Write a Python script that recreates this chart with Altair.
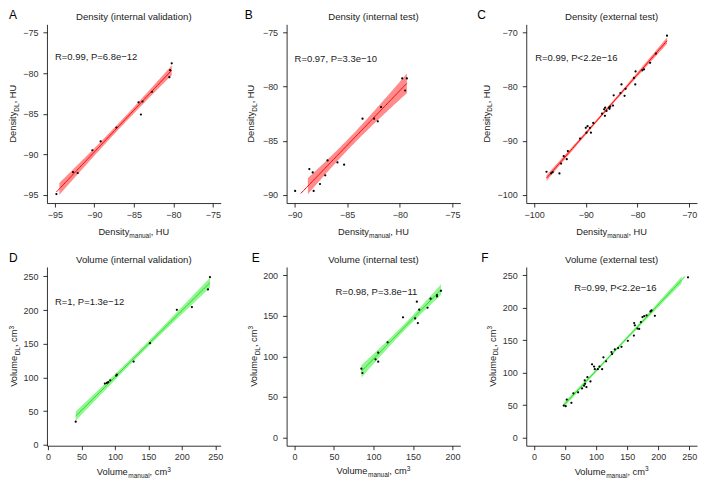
import numpy as np
import pandas as pd
import altair as alt

FONT = "Liberation Sans"

# ---------------- data ----------------
A_manual = [-94.8, -92.7, -92.1, -90.25, -89.2, -87.2, -84.4, -83.9, -84.1, -82.7, -80.5, -80.4, -80.2]
A_dl = [-94.9, -92.2, -92.3, -89.5, -88.4, -86.7, -83.6, -83.5, -85.1, -82.3, -80.5, -79.65, -78.8]

B_manual = [-89.94, -88.59, -88.27, -88.18, -87.58, -87.08, -86.86, -85.92, -85.29, -83.54,
            -82.44, -82.09, -81.78, -79.77, -79.49, -79.33]
B_dl = [-89.63, -87.61, -87.92, -89.63, -88.99, -88.19, -86.81, -87.0, -87.21, -82.96,
        -82.96, -83.2, -81.89, -79.25, -80.36, -79.25]

C_manual = [-97.58, -96.7, -96.4, -95.09, -94.77, -94.26, -93.67, -93.46, -91.1, -89.99,
            -89.66, -89.86, -89.2, -89.0, -88.55, -86.85, -86.45, -86.25, -85.99, -86.3,
            -85.5, -85.27, -85.4, -84.74, -84.6, -83.3, -83.1, -82.5, -82.3, -80.69,
            -80.43, -80.37, -79.06, -78.74, -77.56, -76.45, -74.3]
C_dl = [-95.72, -96.0, -95.8, -96.03, -94.2, -92.85, -93.4, -91.9, -89.6, -87.6,
        -87.3, -88.5, -87.6, -88.5, -86.7, -85.0, -84.2, -83.9, -84.5, -85.4,
        -83.9, -83.7, -84.1, -83.5, -81.6, -81.2, -79.6, -81.7, -80.4, -78.4,
        -79.6, -77.2, -77.0, -76.8, -75.6, -73.9, -70.6]

D_manual = [41.5, 85.0, 88.0, 90.0, 93.0, 102.0, 103.0, 128.0, 152.5, 192.5, 215.0, 239.0, 242.0]
D_dl = [34.2, 90.8, 91.8, 92.8, 95.7, 102.7, 104.2, 123.5, 150.8, 200.4, 204.4, 230.7, 249.0]

E_manual = [84.7, 86.0, 102.6, 106.0, 106.0, 117.9, 137.4, 152.8, 154.9, 156.2, 157.9,
            168.5, 172.3, 180.4, 180.4, 185.5]
E_dl = [84.8, 79.5, 96.3, 104.5, 93.4, 117.2, 148.0, 146.7, 167.2, 141.0, 157.4,
        159.8, 170.9, 173.8, 175.4, 180.7]

F_manual = [47.9, 51.1, 52.7, 60.2, 63.4, 71.0, 77.4, 80.6, 82.3, 84.4, 81.7, 86.0, 90.9,
            93.5, 96.8, 97.9, 102.7, 105.4, 109.7, 111.8, 116.1, 124.7, 125.8, 130.1,
            135.5, 140.9, 151.1, 160.8, 161.3, 162.4, 166.7, 169.4, 172.1, 174.7, 177.4,
            181.2, 187.6, 189.2, 194.6, 248.0]
F_dl = [49.3, 48.3, 58.5, 53.5, 68.1, 69.6, 75.7, 79.8, 82.8, 77.7, 87.9, 93.0, 86.4,
        112.8, 109.3, 105.2, 105.2, 109.3, 105.2, 123.5, 117.4, 131.6, 128.6, 135.7,
        137.7, 139.7, 148.8, 157.0, 176.3, 172.7, 167.7, 167.2, 177.8, 185.4, 186.9,
        187.9, 194.0, 195.6, 187.4, 246.5]

titles = ["Density (internal validation)", "Density (internal test)", "Density (external test)",
          "Volume (internal validation)", "Volume (internal test)", "Volume (external test)"]
letters = ["A", "B", "C", "D", "E", "F"]
stats = ["R=0.99, P=6.8e\u221212", "R=0.97, P=3.3e\u221210", "R=0.99, P<2.2e\u221216",
         "R=1, P=1.3e\u221212", "R=0.98, P=3.8e\u221211", "R=0.99, P<2.2e\u221216"]
density_ticks = [[-95, -90, -85, -80, -75], [-90, -85, -80, -75], [-100, -90, -80, -70]]
volume_ticks = [[0, 50, 100, 150, 200, 250], [0, 50, 100, 150, 200], [0, 50, 100, 150, 200, 250]]
limits = [(-95, -75), (-90, -75), (-100, -70), (0, 250), (0, 200), (0, 250)]

# ---------------- helpers ----------------
CW = {"D": 722, "e": 556, "n": 556, "s": 500, "i": 222, "t": 278, "y": 500, "L": 556,
      "m": 833, "a": 556, "u": 556, "l": 222, "V": 667, "o": 556, "c": 500, ",": 278,
      " ": 278, "H": 722, "U": 722, "3": 556}


def tw(s, size):
    return sum(CW.get(ch, 556) for ch in s) / 1000.0 * size


def tq(df):
    z = 1.959963985
    g1 = (z**3 + z) / 4
    g2 = (5 * z**5 + 16 * z**3 + 3 * z) / 96
    g3 = (3 * z**7 + 19 * z**5 + 17 * z**3 - 15 * z) / 384
    g4 = (79 * z**9 + 776 * z**7 + 1482 * z**5 - 1920 * z**3 - 945 * z) / 92160
    return z + g1 / df + g2 / df**2 + g3 / df**3 + g4 / df**4


def fit_band(x, y, lo, hi, n=80):
    x = np.asarray(x, float)
    y = np.asarray(y, float)
    b, a = np.polyfit(x, y, 1)
    m = len(x)
    res = y - (a + b * x)
    s = np.sqrt((res**2).sum() / (m - 2))
    sxx = ((x - x.mean())**2).sum()
    xs = np.linspace(x.min(), x.max(), n)
    f = a + b * xs
    se = s * np.sqrt(1.0 / m + (xs - x.mean())**2 / sxx)
    t = tq(m - 2)
    df = pd.DataFrame({"x": xs, "fit": f, "lo": f - t * se, "hi": f + t * se})
    line = df[(df.fit >= lo) & (df.fit <= hi)]
    band = df[(df.lo >= lo) & (df.hi <= hi)]
    return line, band


ONE = pd.DataFrame({"k": [0]})


def txt(s, x, y, size, angle=0, align="left", baseline="alphabetic", color="#1a1a1a"):
    return alt.Chart(ONE).mark_text(
        text=s, fontSize=size, angle=angle, align=align, baseline=baseline,
        font=FONT, color=color
    ).encode(x=alt.value(x), y=alt.value(y))


MAIN = 9.3
SUB = 6.5


def piece_list(pieces):
    out = []
    cum = 0.0
    for s, kind in pieces:
        size = MAIN if kind == "" else SUB
        shift = 0.0
        if kind == "sub":
            shift = 2.6
        elif kind == "sup":
            shift = -3.6
        out.append((s, size, shift, cum))
        cum += tw(s, size)
    return out, cum


def x_title(pieces, w, yc):
    items, total = piece_list(pieces)
    x0 = w / 2.0 - total / 2.0
    base = yc + 3.3
    return [txt(s, x0 + c, base + sh, size) for s, size, sh, c in items]


def y_title(pieces, h, xc):
    items, total = piece_list(pieces)
    y0 = h / 2.0 + total / 2.0
    base = xc + 3.3
    return [txt(s, base + sh, y0 - c, size, angle=270) for s, size, sh, c in items]


def panel(i, xs, ys, xdom, ydom, ticks, w, h, color, band_color, xp, yp,
          letter_dx, ytitle_x, xtitle_y, stat_pos):
    lo, hi = limits[i]
    pts = pd.DataFrame({"x": xs, "y": ys})
    line, band = fit_band(xs, ys, lo, hi)
    xsc = alt.Scale(domain=xdom, nice=False, zero=False)
    ysc = alt.Scale(domain=ydom, nice=False, zero=False)
    common = dict(title=None, grid=False, domainColor="black", domainWidth=0.8,
                  tickColor="black", tickWidth=0.8, tickSize=4, labelFontSize=9,
                  labelFont=FONT, labelColor="#333333", labelFlush=False,
                  labelOverlap=False, values=ticks)
    xax = alt.Axis(labelPadding=3, **common)
    yax = alt.Axis(labelPadding=5, **common)
    X = lambda f: alt.X(f, type="quantitative", scale=xsc, axis=xax)
    Y = lambda f: alt.Y(f, type="quantitative", scale=ysc, axis=yax)
    band_ch = alt.Chart(band).mark_area(color=band_color, opacity=0.5).encode(
        x=X("x"), y=Y("lo"), y2="hi")
    line_ch = alt.Chart(line).mark_line(color=color, strokeWidth=1).encode(
        x=X("x"), y=Y("fit"))
    pt_ch = alt.Chart(pts).mark_circle(color="black", size=5, opacity=1).encode(
        x=X("x"), y=Y("y"))
    layers = [band_ch, line_ch, pt_ch]
    layers.append(txt(titles[i], w / 2.0, -7, 9.6, align="center", baseline="middle"))
    layers.append(txt(letters[i], letter_dx, -9, 12, baseline="middle", color="black"))
    layers.append(txt(stats[i], stat_pos[0], stat_pos[1], 9.5, baseline="middle"))
    layers += x_title(xp, w, h + xtitle_y)
    layers += y_title(yp, h, ytitle_x)
    return alt.layer(*layers).properties(width=w, height=h)


dens_x = [("Density", ""), ("manual", "sub"), (", HU", "")]
dens_y = [("Density", ""), ("DL", "sub"), (", HU", "")]
vol_x = [("Volume", ""), ("manual", "sub"), (", cm", ""), ("3", "sup")]
vol_y = [("Volume", ""), ("DL", "sub"), (", cm", ""), ("3", "sup")]

RED, RED_BAND = "#FF0000", "#FF1A1A"
GRN, GRN_BAND = "#22DD22", "#22EE22"
H = 179

pA = panel(0, A_manual, A_dl, [-96, -74], [-96, -74], density_ticks[0], 174, H, RED, RED_BAND,
           dens_x, dens_y, -38, -34, 28.6, (8, 33))
pB = panel(1, B_manual, B_dl, [-90.75, -74.25], [-90.75, -74.25], density_ticks[1], 174, H,
           RED, RED_BAND, dens_x, dens_y, -42, -35.5, 29, (8, 35))
pC = panel(2, C_manual, C_dl, [-101.5, -68.5], [-101.5, -68.5], density_ticks[2], 171, H,
           RED, RED_BAND, dens_x, dens_y, -49, -40, 29, (9, 34))
pD = panel(3, D_manual, D_dl, [-1.5, 258], [-1.5, 264], volume_ticks[0], 174, H, GRN, GRN_BAND,
           vol_x, vol_y, -38, -33, 26.5, (8, 35))
pE = panel(4, E_manual, E_dl, [-10, 210], [-10, 210], volume_ticks[1], 174, H, GRN, GRN_BAND,
           vol_x, vol_y, -35, -33, 25.5, (49, 25))
pF = panel(5, F_manual, F_dl, [-12.5, 262.5], [-12.5, 262.5], volume_ticks[2], 171, H,
           GRN, GRN_BAND, vol_x, vol_y, -45, -34, 26, (48, 21))

chart = alt.concat(
    pA, pB, pC, pD, pE, pF, columns=3, bounds="flush",
    spacing={"row": 64, "column": 66}
).properties(padding=0).configure_view(stroke="transparent")

chart.save("out.html", embed_options={"renderer": "svg", "actions": False})
